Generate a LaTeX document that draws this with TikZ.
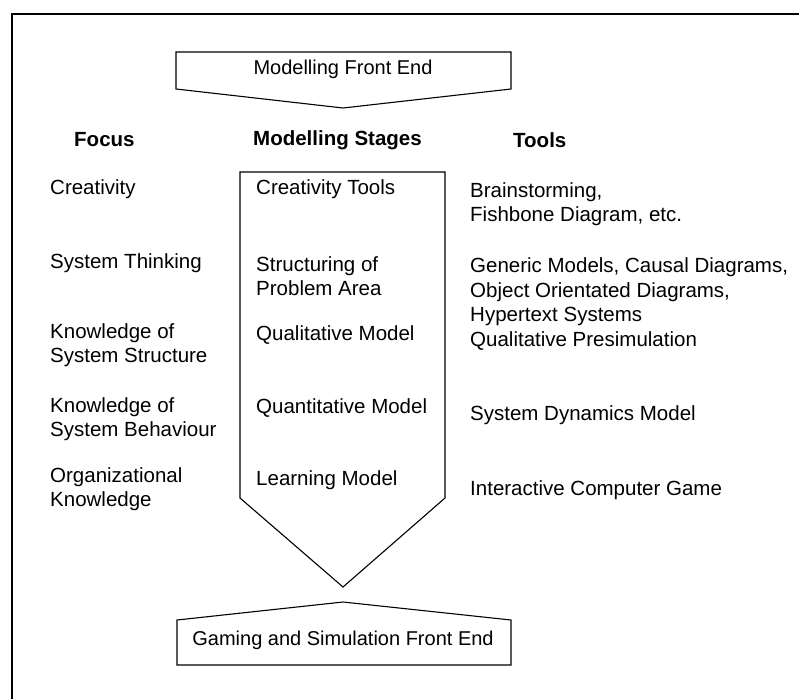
\documentclass[tikz,border=0pt]{standalone}
\usepackage{fontspec}
\setmainfont{Liberation Sans}
\begin{document}
\begin{tikzpicture}[x=1pt,y=-1pt,
  txt/.style={inner sep=0pt, anchor=west, align=left, font=\fontsize{20.5}{24.5}\selectfont},
  hdr/.style={txt, font=\fontsize{20.5}{24.5}\selectfont\bfseries},
  ctr/.style={inner sep=0pt, font=\fontsize{20}{24}\selectfont},
  outline/.style={draw=black, line width=1.1pt, line join=miter},
  frame/.style={draw=black, line width=2.6pt}]
\useasboundingbox (0,0) rectangle (799,698);
% frame
\draw[frame] (12,705) -- (12,14) -- (805,14);
% top arrow
\draw[outline] (176,52) -- (511,52) -- (511,89) -- (343,108) -- (176,89) -- cycle;
\node[ctr] (mfe) at (343,69) {Modelling Front End};
% headers
\node[hdr] (hfocus) at (74,140) {Focus};
\node[hdr] (hstages) at (253,140) {Modelling Stages};
\node[hdr] (htools) at (513,140) {Tools};
% big pentagon arrow
\draw[outline] (240,172) -- (445,172) -- (445,498) -- (343,587) -- (240,498) -- cycle;
% focus column
\node[txt] (f1) at (50,189) {Creativity};
\node[txt] (f2) at (50,263) {System Thinking};
\node[txt] (f3) at (50,345) {Knowledge of\\System Structure};
\node[txt] (f4) at (50,419) {Knowledge of\\System Behaviour};
\node[txt] (f5) at (50,489) {Organizational\\Knowledge};
% stages column
\node[txt] (s1) at (256,189) {Creativity Tools};
\node[txt] (s2) at (256,276) {Structuring of\\Problem Area};
\node[txt] (s3) at (256,335) {Qualitative Model};
\node[txt] (s4) at (256,408) {Quantitative Model};
\node[txt] (s5) at (256,480) {Learning Model};
% tools column
\node[txt] (t1) at (470,204) {Brainstorming,\\Fishbone Diagram, etc.};
\node[txt] (t2) at (470,304) {Generic Models, Causal Diagrams,\\Object Orientated Diagrams,\\Hypertext Systems\\Qualitative Presimulation};
\node[txt] (t3) at (470,415) {System Dynamics Model};
\node[txt] (t4) at (470,490) {Interactive Computer Game};
% bottom box
\draw[outline] (177,620) -- (343,602) -- (511,620) -- (511,665) -- (177,665) -- cycle;
\node[ctr] (gsfe) at (343,640) {Gaming and Simulation Front End};
\end{tikzpicture}
\end{document}
